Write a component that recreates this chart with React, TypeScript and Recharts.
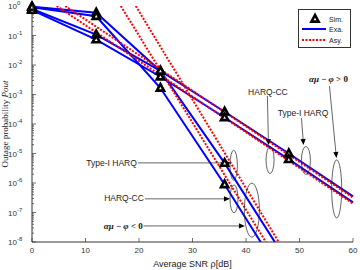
import { ComposedChart, Line, Scatter, XAxis, YAxis, ReferenceDot, ReferenceLine } from 'recharts';

// ---- valores ----
const SNR = [0, 12, 24, 36, 48, 60];
const SIM_SNR = [0, 12, 24, 36, 48];

// Exa. — alpha*mu - phi > 0
const EXA_T1_POS = [0.79, 0.107, 0.0063, 2.6e-4, 1.0e-5, 3.5e-7];
const EXA_CC_POS = [0.72, 0.072, 0.004, 1.66e-4, 6.3e-6, 2.2e-7];
// Exa. — alpha*mu - phi < 0
const EXA_T1_NEG = [0.95, 0.59, 0.0063, 4.7e-6, 1.8e-9];
const EXA_CC_NEG = [0.91, 0.45, 0.00166, 8.9e-7, 3.0e-10];

// Sim.
const SIM_T1_POS = [0.79, 0.107, 0.0063, 2.6e-4, 1.0e-5];
const SIM_CC_POS = [0.72, 0.072, 0.004, 1.66e-4, 6.3e-6];
const SIM_T1_NEG = [0.95, 0.59, 0.0063, 4.7e-6];
const SIM_CC_NEG = [0.91, 0.45, 0.00166, 8.9e-7];

// Asy. — rectas (extremos visibles)
const ASY_T1_POS_SNR = [6.2, 60];
const ASY_T1_POS = [1, 3.2e-7];
const ASY_CC_POS_SNR = [4.6, 60];
const ASY_CC_POS = [1, 2.0e-7];
const ASY_T1_NEG_SNR = [19.4, 46.1];
const ASY_T1_NEG = [1, 1e-8];
const ASY_CC_NEG_SNR = [16.6, 43.7];
const ASY_CC_NEG = [1, 1e-8];

const X_TICKS = [0, 10, 20, 30, 40, 50, 60];
const Y_MAJOR = [1e-8, 1e-7, 1e-6, 1e-5, 1e-4, 1e-3, 1e-2, 1e-1, 1];
const Y_TICKS = Y_MAJOR.flatMap((m, i) =>
  i === Y_MAJOR.length - 1 ? [m] : [m, ...[2, 3, 4, 5, 6, 7, 8, 9].map((k) => k * m)]
);

const pts = (xs: number[], ys: number[]) => xs.map((x, i) => ({ snr: x, p: ys[i] }));

const BLUE = '#0000ff';
const RED = '#ff0000';
const AXC = '#333';
const SANS = 'Liberation Sans, Arial, sans-serif';
const SERIF = 'Liberation Serif, Times New Roman, serif';

const isMajor = (v: number) => Y_MAJOR.some((m) => Math.abs(v - m) < m * 1e-6);

function LeftTick({ x, y, payload }: any) {
  const v = payload.value;
  const major = isMajor(v);
  const e = Math.round(Math.log10(v));
  return (
    <g>
      <line x1={x} x2={x + (major ? 4 : 2)} y1={y} y2={y} stroke={AXC} strokeWidth={0.7} />
      {major && (
        <text x={x - 24} y={y + 3} fontSize={8} fontFamily={SANS} fill={AXC}>
          10
          <tspan fontSize={6} dy={-4}>{e}</tspan>
        </text>
      )}
    </g>
  );
}

function RightTick({ x, y, payload }: any) {
  const major = isMajor(payload.value);
  return <line x1={x - (major ? 4 : 2)} x2={x} y1={y} y2={y} stroke={AXC} strokeWidth={0.7} />;
}

function BottomTick({ x, y, payload }: any) {
  return (
    <g>
      <line x1={x} x2={x} y1={y} y2={y - 4} stroke={AXC} strokeWidth={0.7} />
      <text x={x} y={y + 11} fontSize={8} fontFamily={SANS} fill={AXC} textAnchor="middle">
        {payload.value}
      </text>
    </g>
  );
}

function TopTick({ x, y }: any) {
  return <line x1={x} x2={x} y1={y} y2={y + 4} stroke={AXC} strokeWidth={0.7} />;
}

function Tri({ cx, cy }: any) {
  return (
    <polygon
      points={`${cx},${cy - 4} ${cx - 3.6},${cy + 2.6} ${cx + 3.6},${cy + 2.6}`}
      fill="#fff"
      stroke="#000"
      strokeWidth={2.6}
      strokeLinejoin="miter"
    />
  );
}

const Arrow = (p: any) => {
  const { x1, y1, x2, y2 } = p;
  const a = Math.atan2(y2 - y1, x2 - x1);
  const L = 6;
  const W = 2.6;
  const bx = x2 - L * Math.cos(a);
  const by = y2 - L * Math.sin(a);
  const nx = -Math.sin(a) * W;
  const ny = Math.cos(a) * W;
  return (
    <g>
      <line x1={x1} y1={y1} x2={bx} y2={by} stroke="#222" strokeWidth={0.7} />
      <polygon points={`${x2},${y2} ${bx + nx},${by + ny} ${bx - nx},${by - ny}`} fill="#000" />
    </g>
  );
};

const ellipse = (rx: number, ry: number) => (p: any) => (
  <ellipse cx={p.cx} cy={p.cy} rx={rx} ry={ry} fill="none" stroke="#222" strokeWidth={0.7} />
);

const label = (txt: string, anchor: 'start' | 'middle' | 'end') => (p: any) => (
  <text x={p.cx} y={p.cy} dy="0.35em" fontSize={8.5} fontFamily={SANS} fill="#222" textAnchor={anchor}>
    {txt}
  </text>
);

const mathLabel = (sign: string, anchor: 'start' | 'middle' | 'end') => (p: any) => (
  <text
    x={p.cx}
    y={p.cy}
    dy="0.35em"
    fontSize={9}
    fontFamily={SERIF}
    fontWeight="bold"
    fill="#111"
    textAnchor={anchor}
  >
    <tspan fontStyle="italic">αμ</tspan> − <tspan fontStyle="italic">φ</tspan> {sign} 0
  </text>
);

function LegendBox() {
  return (
    <div
      style={{
        position: 'absolute',
        left: 298,
        top: 9,
        width: 53,
        height: 39,
        border: `1px solid ${AXC}`,
        background: '#fff',
        boxSizing: 'border-box',
      }}
    >
      <svg width={51} height={37} style={{ display: 'block' }}>
        <Tri cx={16} cy={9} />
        <line x1={3} x2={27} y1={19} y2={19} stroke={BLUE} strokeWidth={2} />
        <line x1={3} x2={27} y1={30} y2={30} stroke={RED} strokeWidth={2} strokeDasharray="2 1.5" />
        {[
          ['Sim.', 9],
          ['Exa.', 19],
          ['Asy.', 30],
        ].map(([t, y]) => (
          <text key={t as string} x={30} y={(y as number) + 2.5} fontSize={7} fontFamily={SANS} fill="#222">
            {t}
          </text>
        ))}
      </svg>
    </div>
  );
}

export default function App() {
  const exa = [
    pts(SNR, EXA_T1_POS),
    pts(SNR, EXA_CC_POS),
    pts(SNR.slice(0, 5), EXA_T1_NEG),
    pts(SNR.slice(0, 5), EXA_CC_NEG),
  ];
  const asy = [
    pts(ASY_T1_POS_SNR, ASY_T1_POS),
    pts(ASY_CC_POS_SNR, ASY_CC_POS),
    pts(ASY_T1_NEG_SNR, ASY_T1_NEG),
    pts(ASY_CC_NEG_SNR, ASY_CC_NEG),
  ];
  const sim = [
    pts(SIM_SNR, SIM_T1_POS),
    pts(SIM_SNR, SIM_CC_POS),
    pts(SIM_SNR.slice(0, 4), SIM_T1_NEG),
    pts(SIM_SNR.slice(0, 4), SIM_CC_NEG),
  ];

  return (
    <div style={{ position: 'absolute', left: 0, top: 0, width: 360, height: 270, background: '#fff' }}>
      <ComposedChart width={360} height={270} margin={{ top: 6, right: 7, bottom: 0, left: 0 }}>
        <XAxis
          dataKey="snr"
          type="number"
          domain={[0, 60]}
          ticks={X_TICKS}
          interval={0}
          height={28}
          tickSize={0}
          tickMargin={0}
          tick={<BottomTick />}
          axisLine={{ stroke: AXC }}
          label={{
            content: ({ viewBox }: any) => (
              <text
                x={viewBox.x + viewBox.width / 2}
                y={viewBox.y + 25}
                textAnchor="middle"
                fontSize={9}
                fontFamily={SANS}
                fill="#222"
              >
                Average SNR ρ[dB]
              </text>
            ),
          }}
        />
        <XAxis
          xAxisId="top"
          orientation="top"
          type="number"
          domain={[0, 60]}
          ticks={X_TICKS}
          interval={0}
          height={0}
          tickSize={0}
          tickMargin={0}
          tick={<TopTick />}
          axisLine={{ stroke: AXC }}
        />
        <YAxis
          yAxisId="p"
          dataKey="p"
          scale="log"
          type="number"
          domain={[1e-8, 1]}
          allowDataOverflow
          ticks={Y_TICKS}
          interval={0}
          width={32}
          tickSize={0}
          tickMargin={0}
          tick={<LeftTick />}
          axisLine={{ stroke: AXC }}
          label={{
            content: ({ viewBox }: any) => {
              const cx = viewBox.x + 8;
              const cy = viewBox.y + viewBox.height / 2 - 0;
              return (
                <text
                  x={cx}
                  y={cy}
                  transform={`rotate(-90 ${cx} ${cy})`}
                  textAnchor="middle"
                  fontSize={9}
                  fontFamily={SERIF}
                  fill="#222"
                >
                  Outage probability <tspan fontStyle="italic">Pout</tspan>
                </text>
              );
            },
          }}
        />
        <YAxis yAxisId="sim" dataKey="p" scale="log" type="number" domain={[1e-8, 1]} hide />
        <YAxis
          yAxisId="right"
          orientation="right"
          scale="log"
          type="number"
          domain={[1e-8, 1]}
          ticks={Y_TICKS}
          interval={0}
          width={0}
          tickSize={0}
          tickMargin={0}
          tick={<RightTick />}
          axisLine={{ stroke: AXC }}
        />

        {exa.map((d, i) => (
          <Line
            key={`exa${i}`}
            yAxisId="p"
            data={d}
            dataKey="p"
            stroke={BLUE}
            strokeWidth={2}
            dot={false}
            type="linear"
            isAnimationActive={false}
          />
        ))}
        {asy.map((d, i) => (
          <Line
            key={`asy${i}`}
            yAxisId="p"
            data={d}
            dataKey="p"
            stroke={RED}
            strokeWidth={2}
            strokeDasharray="2 1.5"
            dot={false}
            type="linear"
            isAnimationActive={false}
          />
        ))}
        {sim.map((d, i) => (
          <Scatter
            key={`sim${i}`}
            yAxisId="sim"
            data={d}
            dataKey="p"
            shape={<Tri />}
            isAnimationActive={false}
          />
        ))}

        {/* anotaciones: alpha*mu - phi > 0 */}
        <ReferenceDot yAxisId="p" x={44.1} y={1.26e-3} shape={label('HARQ-CC', 'middle')} />
        <ReferenceLine yAxisId="p" segment={[{ x: 44.0, y: 8.9e-4 }, { x: 44.2, y: 1.95e-5 }]} shape={Arrow} />
        <ReferenceDot yAxisId="p" x={44.5} y={6.0e-6} shape={ellipse(4, 13.5)} />

        <ReferenceDot yAxisId="p" x={50.65} y={2.35e-4} shape={label('Type-I HARQ', 'middle')} />
        <ReferenceLine yAxisId="p" segment={[{ x: 50.37, y: 1.6e-4 }, { x: 50.75, y: 1.95e-5 }]} shape={Arrow} />
        <ReferenceDot yAxisId="p" x={51.2} y={5.8e-6} shape={ellipse(4.5, 14)} />

        <ReferenceDot yAxisId="p" x={55.42} y={3.35e-3} shape={mathLabel('>', 'middle')} />
        <ReferenceLine yAxisId="p" segment={[{ x: 55.6, y: 1.95e-3 }, { x: 56.9, y: 7.0e-6 }]} shape={Arrow} />
        <ReferenceDot yAxisId="p" x={56.95} y={6.3e-7} shape={ellipse(5, 29)} />

        {/* anotaciones: alpha*mu - phi < 0 */}
        <ReferenceDot yAxisId="p" x={19.6} y={4.9e-6} shape={label('Type-I HARQ', 'end')} />
        <ReferenceLine yAxisId="p" segment={[{ x: 19.8, y: 4.8e-6 }, { x: 37.2, y: 4.8e-6 }]} shape={Arrow} />
        <ReferenceDot yAxisId="p" x={37.7} y={4.0e-6} shape={ellipse(3.7, 15)} />

        <ReferenceDot yAxisId="p" x={20.9} y={3.0e-7} shape={label('HARQ-CC', 'end')} />
        <ReferenceLine yAxisId="p" segment={[{ x: 21.1, y: 2.9e-7 }, { x: 37.0, y: 2.9e-7 }]} shape={Arrow} />
        <ReferenceDot yAxisId="p" x={37.76} y={2.9e-7} shape={ellipse(4, 14)} />

        <ReferenceDot yAxisId="p" x={20.7} y={3.5e-8} shape={mathLabel('<', 'end')} />
        <ReferenceLine yAxisId="p" segment={[{ x: 20.85, y: 3.5e-8 }, { x: 39.8, y: 3.5e-8 }]} shape={Arrow} />
        <ReferenceDot yAxisId="p" x={41.1} y={1.2e-7} shape={ellipse(7.5, 27)} />
      </ComposedChart>
      <LegendBox />
    </div>
  );
}
